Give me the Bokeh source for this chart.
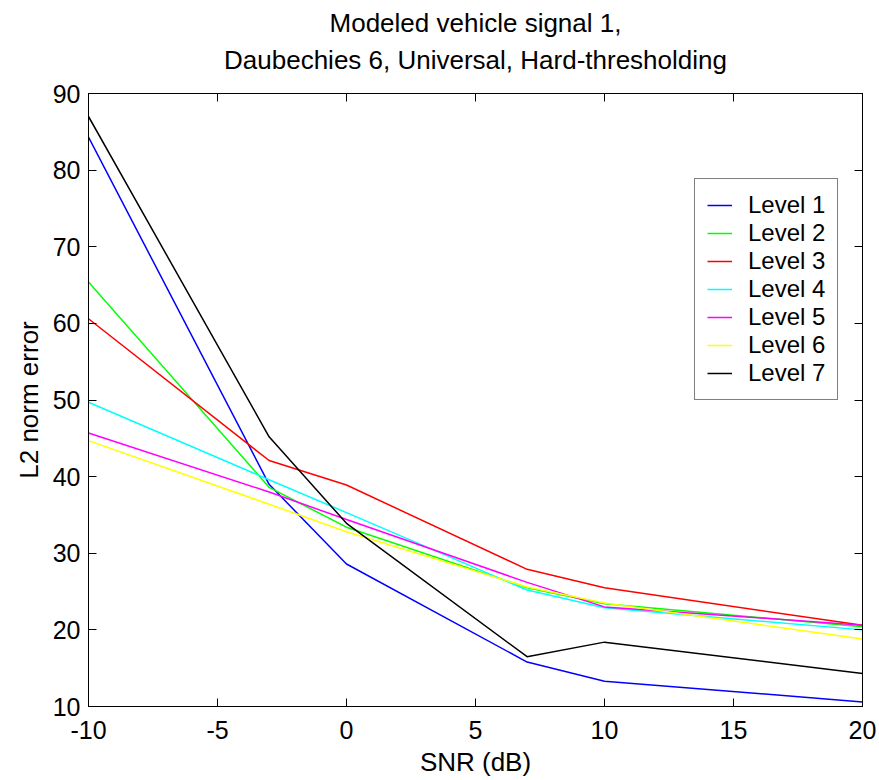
from bokeh.plotting import figure
from bokeh.models import LinearAxis, Title, Legend, LegendItem, FixedTicker, Range1d
from bokeh.embed import file_html
from bokeh.resources import INLINE

snr = [-10, -3, 0, 7, 10, 20]
level1 = [84.3, 39.0, 28.6, 15.8, 13.3, 10.6]
level2 = [65.4, 38.6, 33.4, 25.5, 23.4, 20.4]
level3 = [60.6, 42.1, 38.9, 27.9, 25.5, 20.6]
level4 = [49.7, 39.6, 35.3, 25.2, 22.9, 20.0]
level5 = [45.7, 38.0, 34.4, 26.2, 23.0, 20.6]
level6 = [44.7, 36.4, 32.8, 25.6, 23.5, 18.8]
level7 = [87.0, 45.2, 33.9, 16.5, 18.4, 14.3]
labels = ["Level 1", "Level 2", "Level 3", "Level 4", "Level 5", "Level 6", "Level 7"]
colors = ["#0000ff", "#00ff00", "#ff0000", "#00ffff", "#ff00ff", "#ffff00", "#000000"]
x_ticks = [-10, -5, 0, 5, 10, 15, 20]
x_tick_labels = ["-10", "-5", "0", "5", "10", "15", "20"]
y_ticks = [10, 20, 30, 40, 50, 60, 70, 80, 90]
title_lines = ["Modeled vehicle signal 1,", "Daubechies 6, Universal, Hard-thresholding"]

FONT = "Liberation Sans"
FS = "26px"
TFS = "25px"
LFS = "24px"

p = figure(width=879, height=780, output_backend="svg", toolbar_location=None,
           x_range=Range1d(-10, 20), y_range=Range1d(10, 90),
           min_border_left=88, min_border_right=17, min_border_top=93, min_border_bottom=74,
           title=title_lines[0])
p.background_fill_color = "white"
p.border_fill_color = "white"
p.outline_line_color = "black"
p.outline_line_width = 1
p.xgrid.visible = False
p.ygrid.visible = False

# outer (first) title line
p.title.align = "center"
p.title.text_font = FONT
p.title.text_font_size = FS
p.title.text_font_style = "normal"
p.title.text_color = "black"
p.title.standoff = -27

def style_axis(ax, ticks, show_labels):
    ax.ticker = FixedTicker(ticks=ticks)
    ax.major_tick_in = 8
    ax.major_tick_out = 0
    ax.minor_tick_line_color = None
    ax.major_tick_line_color = "black"
    ax.axis_line_color = "black"
    ax.major_label_text_font = FONT
    ax.major_label_text_color = "black"
    ax.axis_label_text_font = FONT
    ax.axis_label_text_font_size = FS
    ax.axis_label_text_font_style = "normal"
    ax.axis_label_text_color = "black"
    if show_labels:
        ax.major_label_text_font_size = TFS
    else:
        ax.major_label_text_font_size = "1px"
        ax.major_label_overrides = {t: "" for t in ticks}
        ax.major_label_standoff = 0

xa = p.xaxis[0]
ya = p.yaxis[0]
style_axis(xa, x_ticks, True)
style_axis(ya, y_ticks, True)
xa.major_label_overrides = dict(zip(x_ticks, x_tick_labels))
xa.axis_label = "SNR (dB)"
ya.axis_label = "L2 norm error"
xa.major_label_standoff = 14
ya.major_label_standoff = 8
xa.axis_label_standoff = 5
ya.axis_label_standoff = 6

top_ax = LinearAxis()
right_ax = LinearAxis()
style_axis(top_ax, x_ticks, False)
style_axis(right_ax, y_ticks, False)
p.add_layout(top_ax, "above")
p.add_layout(right_ax, "right")

# inner (second) title line
p.add_layout(Title(text=title_lines[1], align="center", text_font=FONT,
                   text_font_size=FS, text_font_style="normal", text_color="black",
                   standoff=37), "above")

series = [level1, level2, level3, level4, level5, level6, level7]
items = []
for ys, lab, col in zip(series, labels, colors):
    r = p.line(snr, ys, line_color=col, line_width=1.5)
    items.append(LegendItem(label=lab, renderers=[r]))

legend = Legend(items=items, location=(606, 306), orientation="vertical")
legend.border_line_color = "black"
legend.border_line_width = 1
legend.background_fill_color = "white"
legend.background_fill_alpha = 1
legend.label_text_font = FONT
legend.label_text_font_size = LFS
legend.label_text_color = "black"
legend.label_text_line_height = 1.0
legend.glyph_width = 25
legend.glyph_height = 20
legend.label_standoff = 16
legend.label_height = 20
legend.padding = 12
legend.spacing = 0
legend.margin = 0
p.add_layout(legend, "center")

open("out.html", "w").write(file_html(p, INLINE))
